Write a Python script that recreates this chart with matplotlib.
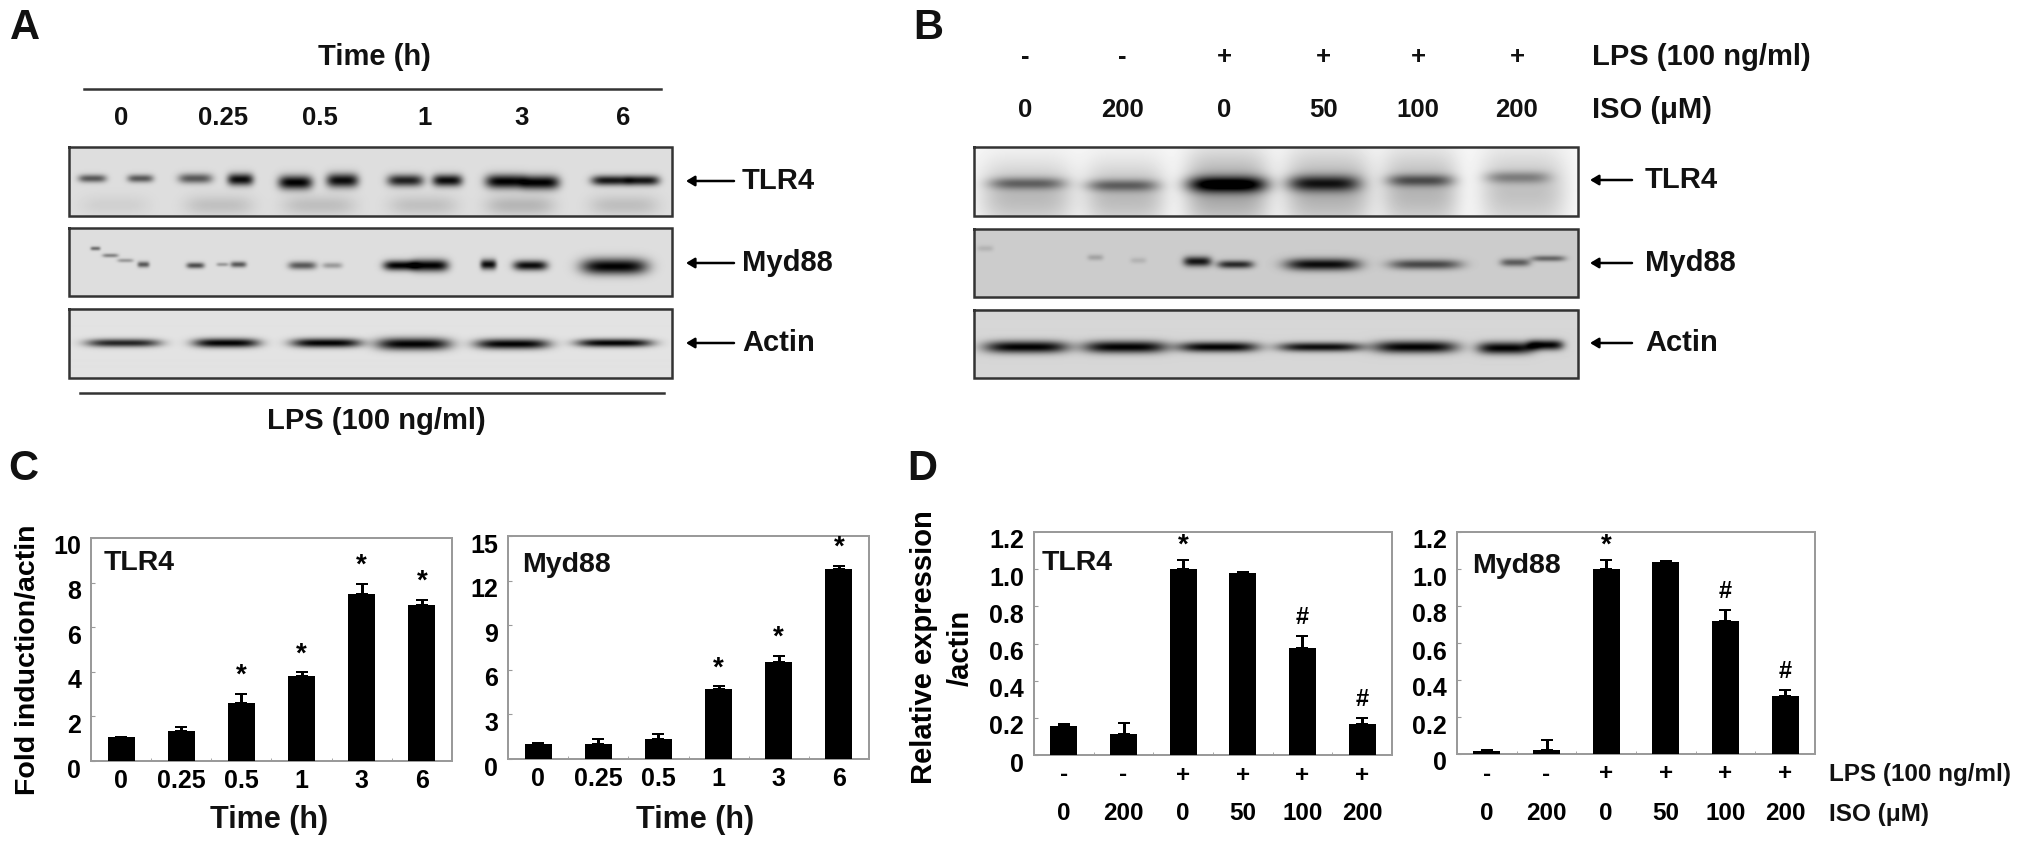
#!/usr/bin/python3
import numpy as np
import matplotlib
matplotlib.use('Agg')
import matplotlib.pyplot as plt
from matplotlib.transforms import ScaledTranslation

plt.rcParams['font.family'] = ['Liberation Sans', 'DejaVu Sans']
plt.rcParams['font.weight'] = 'bold'

W, H = 2031, 849
DPI = 100

# bar data
time_labels = ['0', '0.25', '0.5', '1', '3', '6']
lps_labels = ['-', '-', '+', '+', '+', '+']
iso_labels = ['0', '200', '0', '50', '100', '200']

c_tlr4 = [1.06, 1.35, 2.62, 3.79, 7.50, 7.00]
c_tlr4_err = [0.03, 0.17, 0.38, 0.18, 0.45, 0.23]
c_tlr4_marks = ['', '', '*', '*', '*', '*']

c_myd88 = [1.03, 1.03, 1.35, 4.70, 6.50, 12.80]
c_myd88_err = [0.02, 0.34, 0.36, 0.20, 0.44, 0.18]
c_myd88_marks = ['', '', '', '*', '*', '*']

d_tlr4 = [0.156, 0.113, 1.00, 0.977, 0.577, 0.165]
d_tlr4_err = [0.009, 0.057, 0.05, 0.007, 0.065, 0.036]
d_tlr4_marks = ['', '', '*', '', '#', '#']

d_myd88 = [0.018, 0.020, 1.00, 1.036, 0.717, 0.314]
d_myd88_err = [0.005, 0.057, 0.05, 0.009, 0.063, 0.033]
d_myd88_marks = ['', '', '*', '', '#', '#']

# blot bands: centre x, half width, centre y, half height, darkness
a_tlr4_bands = [
  (92, 14, 178, 4, .6), (140, 13, 178, 4, .6), (195, 17, 178, 5, .6), (240, 13, 179, 6, .95),
  (295, 17, 182, 7, 1), (342, 16, 180, 7, .95), (405, 18, 180, 6, .85), (447, 15, 180, 6, .95),
  (505, 20, 181, 7, 1), (540, 19, 182, 7, 1), (610, 19, 180, 5, .9), (642, 17, 180, 5, .9),
  (115, 34, 205, 10, .06), (219, 34, 205, 10, .13), (319, 36, 205, 10, .14),
  (423, 34, 205, 10, .13), (520, 34, 205, 10, .18), (624, 34, 205, 10, .14)]
a_myd88_bands = [
  (95, 5, 248, 2, .5), (110, 8, 255, 2, .4), (125, 8, 260, 2, .3), (143, 6, 264, 3, .6),
  (195, 9, 265, 3, .65), (222, 6, 264, 2, .3), (238, 8, 264, 3, .6), (302, 14, 265, 4, .6),
  (332, 10, 265, 3, .3), (400, 17, 265, 5, 1), (430, 18, 265, 6, 1), (488, 8, 264, 5, .95),
  (530, 17, 265, 5, .95), (614, 33, 266, 8, 1)]
a_actin_bands = [
  (123, 37, 343, 4, .85), (226, 33, 343, 4.5, 1), (326, 35, 343, 4.5, 1),
  (413, 37, 344, 6, 1), (512, 37, 344, 5, 1), (614, 38, 343, 4, 1)]

b_tlr4_bands = [
  (1027, 46, 195, 32, .25), (1125, 40, 195, 32, .25), (1227, 42, 190, 38, .34),
  (1328, 43, 190, 38, .3), (1420, 38, 190, 38, .27), (1523, 42, 190, 38, .22),
  (1027, 38, 183, 6, .4), (1122, 36, 185, 6, .4), (1227, 40, 184, 8, .85),
  (1323, 36, 183, 8, .65), (1420, 33, 180, 6, .45), (1517, 32, 177, 6, .3)]
b_myd88_bands = [
  (985, 8, 248, 3, .12), (1095, 8, 257, 3, .2), (1138, 8, 260, 3, .12),
  (1197, 14, 261, 5, .9), (1235, 18, 264, 4, .8), (1322, 37, 264, 6, .95),
  (1425, 36, 264, 5, .65), (1515, 15, 262, 4, .55), (1548, 17, 258, 3, .5)]
b_actin_bands = [
  (1026, 42, 347, 6, 1), (1125, 42, 347, 6, 1), (1218, 40, 347, 5, 1),
  (1320, 42, 347, 4.5, .95), (1415, 42, 347, 6, 1), (1505, 28, 348, 6, 1), (1545, 18, 345, 5, 1)]

fig = plt.figure(figsize=(W / DPI, H / DPI), dpi=DPI)

# full page axes in pixel coordinates, for the blots and free text
page = fig.add_axes([0, 0, 1, 1], zorder=5)
page.patch.set_alpha(0)
page.axis('off')

def px(v):
  return v * 72.0 / DPI

def blot(box, base, bands):
  x0, x1, y0, y1 = box
  xs, ys = np.meshgrid(np.arange(x0, x1), np.arange(y0, y1))
  dark = np.zeros(xs.shape)
  for (cx, hw, cy, hh, d) in bands:
    dark += d * np.exp(-np.abs((xs - cx) / hw) ** 4 - ((ys - cy) / hh) ** 2)
  img = base * (1 - np.clip(dark, 0, 1))
  page.imshow(img, cmap='gray', vmin=0, vmax=1, extent=(x0, x1, y1, y0), aspect='auto', interpolation='bilinear')
  page.plot([x0, x1, x1, x0, x0], [y0, y0, y1, y1, y0], color='#333333', lw=px(2.5), solid_joinstyle='miter')

def label(x, y, s, size=21, ha='center'):
  page.text(x, y, s, fontsize=size, ha=ha, va='center', color='#111111')

def arrow(x0, x1, y):
  page.annotate('', xy=(x0, y), xytext=(x1, y),
                arrowprops=dict(arrowstyle='-|>,head_width=0.3,head_length=0.5', color='black', lw=px(2.5), shrinkA=0, shrinkB=0))

def bars(box, vals, errs, marks, ymax, yticks, yticklabels, name, name_x, name_y, mark_off):
  l, r, t, b = box
  ax = fig.add_axes([l / W, 1 - b / H, (r - l) / W, (b - t) / H])
  pos = list(range(len(vals)))
  ax.bar(pos, vals, 0.45, color='black', zorder=3)
  ax.errorbar(pos, vals, yerr=[[0] * len(errs), errs], fmt='none', ecolor='black', elinewidth=px(3), capsize=px(6), capthick=px(2), zorder=3)
  ax.set_xlim(-0.5, len(vals) - 0.5)
  ax.set_ylim(0, ymax)
  for s in ax.spines.values():
    s.set_color('#9a9a9a')
    s.set_linewidth(px(2))
  ax.set_yticks(yticks)
  ax.set_yticklabels(yticklabels, fontsize=18)
  ax.tick_params(axis='y', direction='in', length=px(4), color='#9a9a9a', pad=px(10))
  shift = ScaledTranslation(0, -7.0 / DPI, fig.dpi_scale_trans)
  for tl in ax.get_yticklabels():
    tl.set_transform(tl.get_transform() + shift)
  ax.set_xticks(pos)
  ax.set_xticks([p + 0.5 for p in pos[:-1]], minor=True)
  ax.tick_params(axis='x', which='minor', direction='in', length=px(3), color='#9a9a9a')
  ax.tick_params(axis='x', which='major', length=0)
  for (i, v, e, m) in zip(pos, vals, errs, marks):
    if m:
      size = 20 if m == '*' else 17
      ax.annotate(m, (i, v + e), xytext=(0, px(mark_off[m])), textcoords='offset points',
                  ha='center', va='center', fontsize=size, zorder=4)
  label(name_x, name_y, name, size=20.5, ha='left')
  return ax

# A
label(25, 28, 'A', size=30)
label(374, 57, 'Time (h)')
page.plot([84, 661], [89, 89], color='#333333', lw=px(2.5))
for (x, s) in zip([121, 223, 320, 425, 522, 623], time_labels):
  label(x, 118, s, size=18.5)
blot((69, 672, 147, 216), 0.87, a_tlr4_bands)
blot((69, 672, 228, 296), 0.87, a_myd88_bands)
blot((69, 672, 309, 378), 0.89, a_actin_bands)
page.plot([80, 664], [393, 393], color='#333333', lw=px(2.5))
label(376, 421, 'LPS (100 ng/ml)')
for (y, s) in zip([181, 263, 343], ['TLR4', 'Myd88', 'Actin']):
  arrow(686, 734, y)
  label(742, y, s, size=21, ha='left')

# B
label(928, 28, 'B', size=30)
for (x, a, b) in zip([1025, 1122, 1224, 1323, 1418, 1517], lps_labels, iso_labels):
  label(x, 57, a, size=18.5)
  label(x, 110, b, size=18.5)
label(1592, 57, 'LPS (100 ng/ml)', ha='left')
label(1592, 110, 'ISO (\u03bcM)', ha='left')
blot((974, 1578, 147, 216), 0.97, b_tlr4_bands)
blot((974, 1578, 229, 297), 0.80, b_myd88_bands)
blot((974, 1578, 310, 378), 0.84, b_actin_bands)
for (y, s) in zip([180, 263, 343], ['TLR4', 'Myd88', 'Actin']):
  arrow(1590, 1632, y)
  label(1645, y, s, size=21, ha='left')

# C
label(23, 469, 'C', size=30)
ax = bars((91, 452, 538, 761), c_tlr4, c_tlr4_err, c_tlr4_marks, 10, [0, 2, 4, 6, 8, 10],
          ['0', '2', '4', '6', '8', '10'], 'TLR4', 104, 563, {'*': 18})
ax.set_xticklabels(time_labels, fontsize=18)
ax.tick_params(axis='x', which='major', pad=px(8))
ax = bars((508, 869, 536, 759), c_myd88, c_myd88_err, c_myd88_marks, 15, [0, 3, 6, 9, 12, 15],
          ['0', '3', '6', '9', '12', '15'], 'Myd88', 522, 565, {'*': 18})
ax.set_xticklabels(time_labels, fontsize=18)
ax.tick_params(axis='x', which='major', pad=px(8))
label(269, 820, 'Time (h)', size=22)
label(695, 820, 'Time (h)', size=22)
page.text(28, 660, 'Fold induction/actin', fontsize=20.5, rotation=90, ha='center', va='center')

# D
label(922, 469, 'D', size=30)
dticks = [0, 0.2, 0.4, 0.6, 0.8, 1.0, 1.2]
dlabels = ['0', '0.2', '0.4', '0.6', '0.8', '1.0', '1.2']
for (box, vals, errs, marks, name, nx, ny) in [
    ((1034, 1392, 532, 755), d_tlr4, d_tlr4_err, d_tlr4_marks, 'TLR4', 1042, 563),
    ((1457, 1815, 532, 754), d_myd88, d_myd88_err, d_myd88_marks, 'Myd88', 1472, 566)]:
  ax = bars(box, vals, errs, marks, 1.2, dticks, dlabels, name, nx, ny, {'*': 14, '#': 18})
  ax.set_xticklabels([])
  for (i, a, b) in zip(range(6), lps_labels, iso_labels):
    ax.annotate(a, (i, 0), xycoords=('data', 'axes fraction'), xytext=(0, px(-20)), textcoords='offset points',
                ha='center', va='center', fontsize=17.5)
    ax.annotate(b, (i, 0), xycoords=('data', 'axes fraction'), xytext=(0, px(-59)), textcoords='offset points',
                ha='center', va='center', fontsize=17.5)
label(1829, 775, 'LPS (100 ng/ml)', size=17.5, ha='left')
label(1829, 814, 'ISO (\u03bcM)', size=17.5, ha='left')
page.text(924, 647, 'Relative expression', fontsize=21, rotation=90, ha='center', va='center')
page.text(961, 648, '/actin', fontsize=21, rotation=90, ha='center', va='center')

page.set_xlim(0, W)
page.set_ylim(H, 0)
fig.savefig('out.png', dpi=DPI, facecolor='white')
plt.close(fig)
